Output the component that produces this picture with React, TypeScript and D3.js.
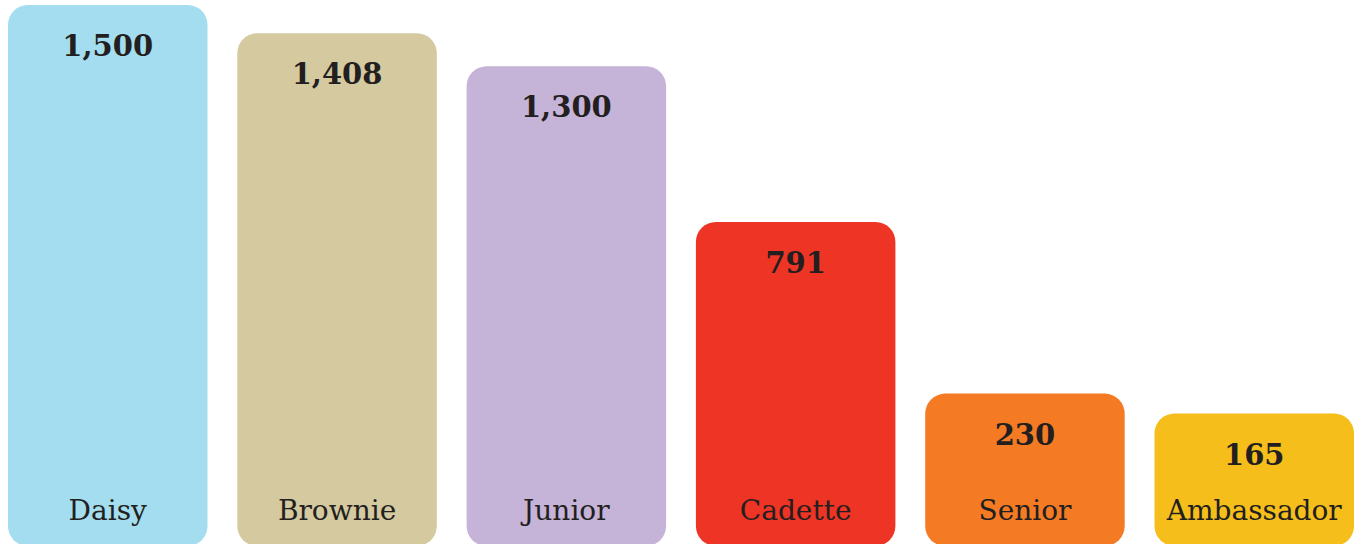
import React from "react";
import * as d3 from "d3";

const categories = ["Daisy", "Brownie", "Junior", "Cadette", "Senior", "Ambassador"];
const values = [1500, 1408, 1300, 791, 230, 165];
const colors = ["#A3DDEF", "#D5C9A0", "#C5B3D8", "#EE3424", "#F47B24", "#F5BE1A"];

const W = 1361;
const H = 544;
const bottom = 546;
const minH = 82;

export default function App() {
  const x = d3.scaleBand<string>().domain(categories).range([8, 1354]).paddingInner(0.13).paddingOuter(0);
  const y = d3.scaleLinear().domain([0, 1500]).range([bottom - minH, 5]);
  const fmt = d3.format(",");
  const labelBase = 520;
  return (
    <svg width={W} height={H} style={{ position: "absolute", left: 0, top: 0 }}>
      {categories.map((c, i) => {
        const x0 = x(c)!;
        const top = y(values[i]);
        const cx = x0 + x.bandwidth() / 2;
        const vBase = Math.min(top + 51, labelBase - 47);
        return (
          <g key={c}>
            <rect x={x0} y={top} width={x.bandwidth()} height={bottom - top} rx={20} ry={20} fill={colors[i]} />
            <text x={cx} y={vBase} textAnchor="middle" fontFamily="DejaVu Serif" fontWeight="bold" fontSize={29} fill="#231F20">
              {fmt(values[i])}
            </text>
            <text x={cx} y={labelBase} textAnchor="middle" fontFamily="DejaVu Serif" fontSize={28} fill="#231F20">
              {c}
            </text>
          </g>
        );
      })}
    </svg>
  );
}
